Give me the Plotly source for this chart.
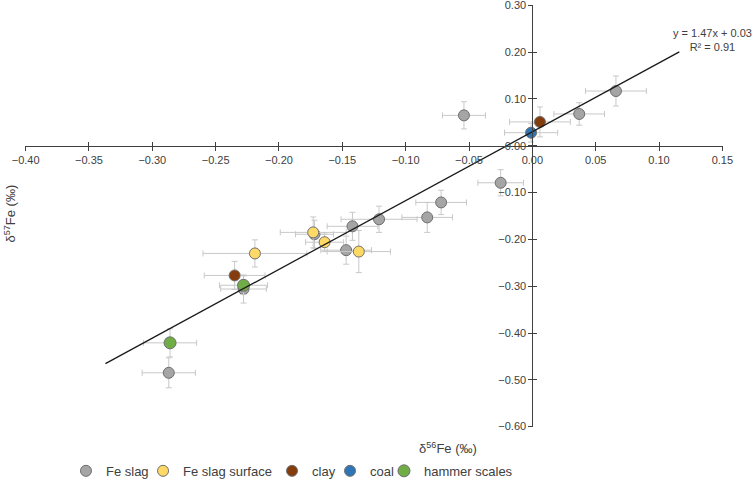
import plotly.graph_objects as go

# ---- data (δ56Fe, δ57Fe in ‰, with 2SD error bars) ----
fe_slag_x = [0.066, 0.037, -0.054, -0.025, -0.072, -0.083, -0.121, -0.142, -0.147, -0.172, -0.228, -0.287]
fe_slag_y = [0.117, 0.068, 0.065, -0.079, -0.121, -0.153, -0.157, -0.172, -0.223, -0.189, -0.306, -0.485]
fe_slag_ex = [0.024, 0.020, 0.017, 0.018, 0.020, 0.020, 0.030, 0.020, 0.020, 0.015, 0.018, 0.021]
fe_slag_ey = [0.032, 0.024, 0.029, 0.028, 0.026, 0.032, 0.028, 0.030, 0.030, 0.030, 0.030, 0.032]

surf_x = [-0.173, -0.164, -0.137, -0.219]
surf_y = [-0.185, -0.206, -0.226, -0.230]
surf_ex = [0.026, 0.015, 0.025, 0.041]
surf_ey = [0.033, 0.020, 0.045, 0.029]

clay_x = [-0.235, 0.006]
clay_y = [-0.277, 0.051]
clay_ex = [0.024, 0.024]
clay_ey = [0.030, 0.032]

coal_x = [-0.001]
coal_y = [0.028]
coal_ex = [0.021]
coal_ey = [0.020]

hammer_x = [-0.228, -0.286]
hammer_y = [-0.298, -0.421]
hammer_ex = [0.019, 0.021]
hammer_ey = [0.020, 0.030]

# linear trendline (as reported on the chart)
slope = 1.47
intercept = 0.03
r2 = 0.91
trend_extend = 0.05

x_ticks = [-0.40, -0.35, -0.30, -0.25, -0.20, -0.15, -0.10, -0.05, 0.00, 0.05, 0.10, 0.15]
y_ticks = [0.30, 0.20, 0.10, 0.00, -0.10, -0.20, -0.30, -0.40, -0.50, -0.60]

series = [
    ("Fe slag", fe_slag_x, fe_slag_y, fe_slag_ex, fe_slag_ey, "#a5a5a5", 11),
    ("Fe slag surface", surf_x, surf_y, surf_ex, surf_ey, "#ffd966", 11),
    ("clay", clay_x, clay_y, clay_ex, clay_ey, "#843c0c", 11),
    ("coal", coal_x, coal_y, coal_ex, coal_ey, "#2e75b6", 11),
    ("hammer scales", hammer_x, hammer_y, hammer_ex, hammer_ey, "#70ad47", 12),
]
legend_x = [0.0587, 0.1691, 0.3539, 0.4370, 0.5143]

FONT = "Liberation Sans"
TXT = "#404040"
ERR = "#c8c8c8"

fig = go.Figure()

all_x = fe_slag_x + surf_x + clay_x + coal_x + hammer_x
tx = [min(all_x) - trend_extend, max(all_x) + trend_extend]
ty = [slope * v + intercept for v in tx]

legend_layouts = {}
for i, (name, xs, ys, ex, ey, col, sz) in enumerate(series):
    lg = "legend" if i == 0 else f"legend{i + 1}"
    fig.add_trace(go.Scatter(
        x=xs, y=ys, mode="markers", name=name, legend=lg,
        marker=dict(color=col, size=sz, line=dict(color="#6e6e6e", width=1)),
        error_x=dict(type="data", array=ex, visible=True, color=ERR, thickness=1, width=3),
        error_y=dict(type="data", array=ey, visible=True, color=ERR, thickness=1, width=3),
    ))
    legend_layouts[lg] = dict(orientation="h", x=legend_x[i], y=-0.104, xanchor="left", yanchor="middle",
                              font=dict(family=FONT, size=13, color=TXT), itemwidth=30,
                              bgcolor="rgba(0,0,0,0)")

fig.add_trace(go.Scatter(x=tx, y=ty, mode="lines", line=dict(color="#1a1a1a", width=1.3),
                         showlegend=False, hoverinfo="skip"))

# dummy trace on overlay axes (for crossing tick marks)
fig.add_trace(go.Scatter(x=[0], y=[0], xaxis="x2", yaxis="y2", mode="markers",
                         marker=dict(opacity=0), showlegend=False, hoverinfo="skip"))

xr = [-0.4005, 0.1505]
yr = [-0.6008, 0.3008]
xpos = (0 - yr[0]) / (yr[1] - yr[0])
ypos = (0 - xr[0]) / (xr[1] - xr[0])

axis_common = dict(showgrid=False, zeroline=False, showline=True, linecolor="#404040", linewidth=1,
                   tickcolor="#404040", ticklen=4, tickwidth=1, ticks="outside", automargin=False,
                   ticklabeloverflow="allow",
                   tickfont=dict(family=FONT, size=11, color=TXT), tickformat=".2f")
overlay_common = dict(showgrid=False, zeroline=False, showline=False, ticks="inside", ticklen=4,
                      tickcolor="#404040", showticklabels=False, automargin=False)

fig.update_layout(
    width=756, height=480,
    margin=dict(l=25, r=33, t=5, b=53, autoexpand=False),
    paper_bgcolor="white", plot_bgcolor="white",
    font=dict(family=FONT, color=TXT),
    xaxis=dict(range=xr, tickvals=x_ticks, anchor="free", position=xpos, **axis_common),
    yaxis=dict(range=yr, tickvals=y_ticks, anchor="free", position=ypos, **axis_common),
    xaxis2=dict(range=xr, tickvals=x_ticks, overlaying="x", anchor="free", position=xpos, **overlay_common),
    yaxis2=dict(range=yr, tickvals=y_ticks, overlaying="y", anchor="free", position=ypos, **overlay_common),
    showlegend=True,
    annotations=[
        dict(text=f"y = {slope:.2f}x + {intercept:.2f}<br>R² = {r2:.2f}", xref="paper", yref="paper",
             x=1.045, y=0.917, showarrow=False, align="center", xanchor="right", yanchor="middle",
             font=dict(family=FONT, size=11, color=TXT)),
        dict(text="δ<sup>56</sup>Fe (‰)", xref="paper", yref="paper", x=0.606, y=-0.05,
             showarrow=False, xanchor="center", yanchor="middle",
             font=dict(family=FONT, size=13, color=TXT)),
        dict(text="δ<sup>57</sup>Fe (‰)", xref="paper", yref="paper", x=-0.022, y=0.505,
             showarrow=False, textangle=-90, xanchor="center", yanchor="middle",
             font=dict(family=FONT, size=13, color=TXT)),
    ],
)
fig.update_layout(**legend_layouts)

fig.write_html("out.html", config={"displayModeBar": False},
               post_script="document.body.style.margin='0';")
